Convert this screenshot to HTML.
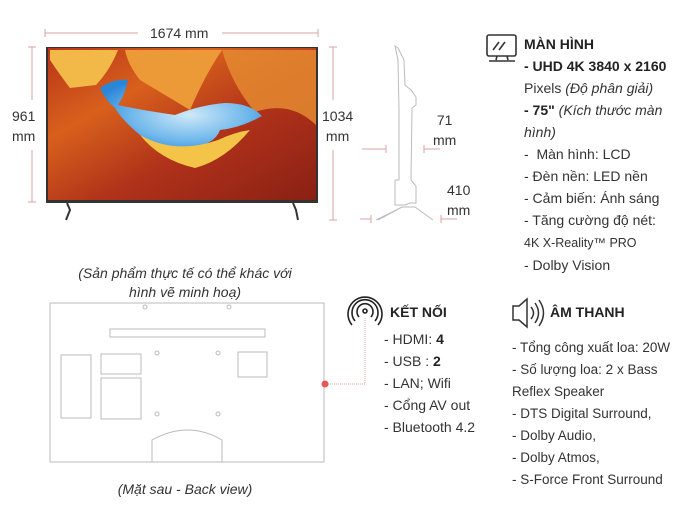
<!DOCTYPE html>
<html><head><meta charset="utf-8"><style>
body{margin:0;width:696px;height:522px;background:#fff;position:relative;overflow:hidden;font-family:"Liberation Sans","Noto Sans CJK SC",sans-serif;color:#333}
.t{position:absolute;font-size:14px;line-height:22px;white-space:nowrap}
.c{text-align:center}
.i{font-style:italic}
b{font-weight:bold;color:#222}
</style></head><body>
<svg width="696" height="522" style="position:absolute;left:0;top:0">
 <defs>
  <linearGradient id="sc" x1="0" y1="0" x2="1" y2="1">
   <stop offset="0" stop-color="#b8341a"/><stop offset=".3" stop-color="#d8601c"/><stop offset=".6" stop-color="#b0321a"/><stop offset="1" stop-color="#8a2014"/>
  </linearGradient>
  <radialGradient id="sky" cx=".55" cy=".5" r=".6"><stop offset="0" stop-color="#cfe9f8"/><stop offset=".6" stop-color="#70b8ec"/><stop offset="1" stop-color="#2c86d8"/></radialGradient>
 </defs>
 <g stroke="#d9a3a3" stroke-width="1">
  <line x1="45" y1="33" x2="138" y2="33"/><line x1="222" y1="33" x2="318" y2="33"/>
  <line x1="45" y1="29" x2="45" y2="37"/><line x1="318" y1="29" x2="318" y2="37"/>
  <line x1="32" y1="47" x2="32" y2="100"/><line x1="32" y1="150" x2="32" y2="202"/>
  <line x1="28" y1="47" x2="36" y2="47"/><line x1="28" y1="202" x2="36" y2="202"/>
  <line x1="333" y1="47" x2="333" y2="100"/><line x1="333" y1="150" x2="333" y2="220"/>
  <line x1="329" y1="47" x2="337" y2="47"/><line x1="329" y1="220" x2="337" y2="220"/>
  <line x1="362" y1="149" x2="386" y2="149"/><line x1="386" y1="145" x2="386" y2="153"/>
  <line x1="424" y1="149" x2="440" y2="149"/><line x1="424" y1="145" x2="424" y2="153"/>
  <line x1="360" y1="219" x2="371" y2="219"/><line x1="371" y1="215" x2="371" y2="223"/>
  <line x1="441" y1="219" x2="457" y2="219"/><line x1="441" y1="215" x2="441" y2="223"/>
 </g>
 <g>
  <rect x="46" y="47" width="272" height="156" fill="#333"/>
  <rect x="48" y="48" width="268" height="152" fill="url(#sc)"/>
  <path d="M50 50 L118 50 Q110 70 96 85 L70 88 Q60 75 50 60Z" fill="#f2b848"/>
  <path d="M125 50 L222 50 Q205 75 190 110 Q165 95 140 80 Q128 65 125 50Z" fill="#ec9a38"/>
  <path d="M222 50 L316 50 L316 125 Q290 100 255 112 Q232 85 222 50Z" fill="#e48a30" opacity=".85"/>
  <path d="M100 88 Q115 78 128 80 Q125 95 118 105 Q140 110 175 115 Q200 105 225 103 Q250 103 262 116 Q240 128 220 130 Q215 145 185 150 Q160 148 140 135 Q122 120 115 108 Q105 100 100 88Z" fill="url(#sky)"/>
  <path d="M140 135 Q175 155 218 140 Q235 132 250 130 Q225 160 195 168 Q160 160 140 135Z" fill="#f3c448"/>
  <path d="M67 203 L70 210 L66 220" stroke="#333" stroke-width="2" fill="none"/>
  <path d="M293 203 L296 210 L298 220" stroke="#333" stroke-width="2" fill="none"/>
 </g>
 <g stroke="#bbb" fill="none" stroke-width="1">
  <path d="M395 46 L398 48 L404 60 L405 85 L411 90 L416 97 L416 105 L412 108 L411 180 L416 186 L416 203 L410 203 L405 205 L395 205 L395 180 L399 180 L399 110 L398 60 Z"/>
  <path d="M376 220 L402 207 L415 207 L433 220 M402 207 L378 220"/>
 </g>
 <g stroke="#bbb" fill="none" stroke-width="1">
  <rect x="50" y="303" width="274" height="159"/>
  <rect x="110" y="329" width="155" height="8"/>
  <rect x="61" y="355" width="30" height="63"/>
  <rect x="101" y="354" width="40" height="20"/>
  <rect x="101" y="378" width="40" height="41"/>
  <rect x="238" y="352" width="29" height="25"/>
  <path d="M152 462 L152 440 Q188 420 222 440 L222 462"/>
  <circle cx="145" cy="307" r="2"/><circle cx="229" cy="307" r="2"/>
  <circle cx="157" cy="353" r="2"/><circle cx="218" cy="353" r="2"/>
  <circle cx="157" cy="414" r="2"/><circle cx="218" cy="414" r="2"/>
 </g>
 <path d="M324 384 L365 384 L365 318" stroke="#e8a0a0" stroke-dasharray="1 1" fill="none"/>
 <circle cx="325" cy="384" r="3.5" fill="#e05a5a"/>
 <g fill="none" stroke="#222" stroke-width="1.6">
  <circle cx="365" cy="311" r="2"/><path d="M359 317 A8 8 0 1 1 371 317"/><path d="M355 321 A13 13 0 1 1 375 321"/><path d="M352 325 A17 17 0 1 1 378 325"/>
 </g>
 <g fill="none" stroke="#333" stroke-width="1.6">
  <rect x="487" y="35" width="29" height="21" rx="2"/><path d="M493 50 L499 42 M499 50 L505 42"/><path d="M497 56 L496 60 M507 56 L508 60 M489 61 L515 61"/>
 </g>
 <g fill="none" stroke="#333" stroke-width="1.5">
  <path d="M513 306 L519 306 L527 299 L527 327 L519 320 L513 320Z"/><path d="M531 307 Q536 313 531 319"/><path d="M535 303 Q542 313 535 323"/><path d="M539 300 Q548 313 539 326"/>
 </g>
</svg>
<div class="t" style="left:150px;top:22px">1674 mm</div>
<div class="t c" style="left:12px;top:106px;line-height:20px">961<br>mm</div>
<div class="t c" style="left:322px;top:106px;line-height:20px">1034<br>mm</div>
<div class="t c" style="left:433px;top:110px;line-height:20px">71<br>mm</div>
<div class="t c" style="left:447px;top:180px;line-height:20px">410<br>mm</div>
<div class="t" style="left:524px;top:33px">
<b>MÀN HÌNH</b><br><b>- UHD 4K 3840 x 2160</b><br>Pixels <i>(Độ phân giải)</i><br><b>- 75"</b> <i>(Kích thước màn</i><br><i>hình)</i><br>-&nbsp; Màn hình: LCD<br>- Đèn nền: LED nền<br>- Cảm biến: Ánh sáng<br>- Tăng cường độ nét:<br><span style="font-size:12.5px">4K X-Reality™ PRO</span><br>- Dolby Vision</div>
<div class="t c i" style="left:60px;top:264px;width:250px;line-height:19px">(Sản phẩm thực tế có thể khác với<br>hình vẽ minh hoạ)</div>
<div class="t c i" style="left:85px;top:478px;width:200px">(Mặt sau - Back view)</div>
<div class="t" style="left:390px;top:301px"><b>KẾT NỐI</b></div>
<div class="t" style="left:384px;top:328px">- HDMI: <b>4</b><br>- USB : <b>2</b><br>- LAN; Wifi<br>- Cổng AV out<br>- Bluetooth 4.2</div>
<div class="t" style="left:550px;top:301px"><b>ÂM THANH</b></div>
<div class="t" style="left:512px;top:337px;font-size:13.5px">- Tổng công xuất loa: 20W<br>- Số lượng loa: 2 x Bass<br>Reflex Speaker<br>- DTS Digital Surround,<br>- Dolby Audio,<br>- Dolby Atmos,<br>- S-Force Front Surround</div>
</body></html>
